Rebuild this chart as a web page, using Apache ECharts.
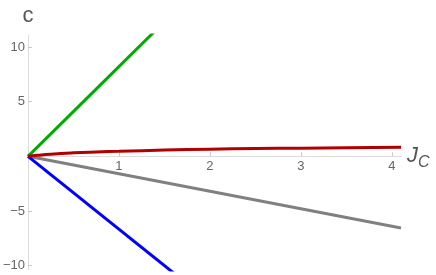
<!DOCTYPE html>
<html>
<head>
<meta charset="utf-8">
<script src="https://cdn.jsdelivr.net/npm/echarts@6/dist/echarts.min.js"></script>
<style>html,body{margin:0;padding:0;background:#fff}#c{width:436px;height:275px}</style>
</head>
<body>
<div id="c"></div>
<script>
var xTickLabels = [1, 2, 3, 4];
var yTickLabels = [-10, -5, 5, 10];

var greenX = [0, 1.4];
var greenY = [0, 11.5];
var blueX = [0, 1.6];
var blueY = [0, -10.67];
var grayX = [0, 4.1];
var grayY = [0, -6.55];
var redX = [0, 0.1, 0.25, 0.5, 0.75, 1, 1.5, 2, 2.5, 3, 3.5, 4.1];
var redY = [0, 0.09, 0.2, 0.32, 0.4, 0.46, 0.57, 0.65, 0.71, 0.75, 0.79, 0.83];

function pairs(xs, ys){ return xs.map(function(x,i){return [x, ys[i]];}); }

var xMin = 0, xMax = 4.1, yMin = -10.4, yMax = 11.1;
var axisCol = '#dcdcdc', labelCol = '#666';
var gridTop = 35, gridBottom = 5, H = 275;
var plotH = H - gridTop - gridBottom;
var zeroOffset = -plotH * (0 - yMin) / (yMax - yMin);

var chart = echarts.init(document.getElementById('c'), null, {renderer:'canvas'});
chart.setOption({
  animation: false,
  grid: {left: 28, right: 35, top: gridTop, bottom: gridBottom, containLabel: false, outerBoundsMode: 'none'},
  xAxis: {
    type: 'value', min: xMin, max: xMax, position: 'bottom', offset: zeroOffset,
    axisLine: {onZero: false, lineStyle: {color: axisCol, width: 1}},
    axisTick: {show: true, inside: true, length: 4, customValues: xTickLabels, lineStyle: {color: '#c8c8c8'}},
    axisLabel: {customValues: xTickLabels, color: labelCol, fontSize: 13, fontFamily: 'Liberation Sans, Arial', margin: 4},
    splitLine: {show: false},
    name: '{j|J}{s|C}', nameLocation: 'end', nameGap: 6,
    nameTextStyle: {rich: {
      j: {fontSize: 22, fontStyle: 'italic', color: '#555', fontFamily: 'Liberation Sans, Arial'},
      s: {fontSize: 16, fontStyle: 'italic', color: '#555', fontFamily: 'Liberation Sans, Arial', padding: [12, 0, 0, 0]}
    }}
  },
  yAxis: {
    type: 'value', min: yMin, max: yMax,
    axisLine: {show: true, onZero: true, lineStyle: {color: axisCol, width: 1}},
    axisTick: {show: true, inside: true, length: 4, customValues: yTickLabels, lineStyle: {color: '#c8c8c8'}},
    axisLabel: {customValues: yTickLabels, color: labelCol, fontSize: 13, fontFamily: 'Liberation Sans, Arial', margin: 3,
      formatter: function(v){ return v < 0 ? '\u2212' + Math.abs(v) : String(v); }},
    splitLine: {show: false},
    name: 'c', nameLocation: 'end', nameGap: 8,
    nameTextStyle: {fontSize: 22, color: '#555', fontFamily: 'Liberation Sans, Arial', align: 'center'}
  },
  series: [
    {type: 'line', data: pairs(grayX, grayY), showSymbol: false, clip: true, lineStyle: {color: '#808080', width: 3}},
    {type: 'line', data: pairs(blueX, blueY), showSymbol: false, clip: true, lineStyle: {color: '#0000ff', width: 3}},
    {type: 'line', data: pairs(greenX, greenY), showSymbol: false, clip: true, lineStyle: {color: '#00aa00', width: 3}},
    {type: 'line', data: pairs(redX, redY), showSymbol: false, smooth: true, clip: true, lineStyle: {color: '#b20000', width: 3}}
  ]
});
</script>
</body>
</html>
